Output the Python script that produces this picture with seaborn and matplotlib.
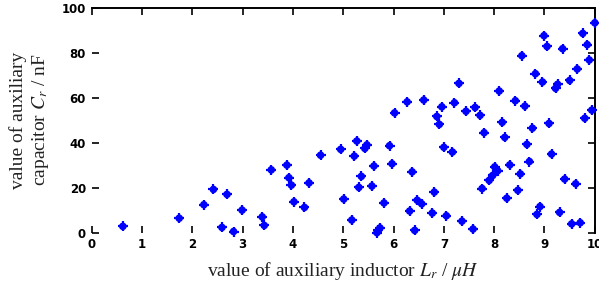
import numpy as np
import pandas as pd
import seaborn as sns
from matplotlib import pyplot as plt

# auxiliary inductor L_r (uH) and capacitor C_r (nF)
L_r = [0.62, 1.74, 2.23, 2.42, 2.69, 2.59, 2.82, 2.99, 3.39, 3.43,
       3.57, 3.88, 3.92, 3.97, 4.02, 4.23, 4.32, 4.55, 4.95, 5.01,
       5.17, 5.22, 5.27, 5.31, 5.36, 5.43, 5.47, 5.57, 5.61, 5.67,
       5.70, 5.73, 5.81, 5.92, 5.97, 6.37, 6.32, 6.42, 6.47, 6.56,
       6.77, 6.81, 7.00, 7.05, 7.17, 7.36, 7.58, 7.76, 7.80, 7.90,
       7.97, 8.01, 8.07, 8.21, 8.25, 8.31, 8.47, 8.52, 8.65, 8.70,
       8.76, 8.85, 8.91, 9.14, 9.30, 9.40, 9.62, 9.54, 9.71,
       6.02, 6.27, 6.60, 6.86, 6.91, 6.96, 7.21, 7.30, 7.44, 7.62,
       7.72, 8.10, 8.16, 8.42, 8.61, 8.55, 8.82, 8.96, 8.99, 9.05,
       9.09, 9.22, 9.26, 9.36, 9.50, 9.65, 9.76, 9.85, 9.89, 10.0,
       9.94, 9.80]
C_r = [2.8, 6.4, 12.4, 19.2, 17.0, 2.3, 0.5, 10.0, 7.0, 3.2,
       27.9, 30.0, 24.4, 21.1, 13.7, 11.2, 22.1, 34.4, 37.0, 14.9,
       5.6, 34.0, 40.7, 20.1, 25.0, 37.4, 39.0, 20.7, 29.6, 0.0,
       1.1, 2.1, 13.2, 38.6, 30.6, 27.0, 9.6, 1.0, 14.4, 12.8,
       8.7, 18.0, 37.9, 7.5, 35.8, 5.1, 1.6, 19.6, 44.4, 23.2,
       25.4, 29.2, 27.5, 42.3, 15.3, 30.1, 18.8, 26.1, 39.2, 31.6,
       46.4, 8.1, 11.6, 34.9, 9.0, 23.8, 21.7, 3.9, 4.4,
       53.2, 58.1, 58.9, 51.6, 48.1, 55.9, 57.7, 66.3, 53.9, 55.6,
       52.1, 62.9, 49.0, 58.6, 56.2, 78.6, 70.6, 66.9, 87.5, 82.7,
       48.5, 64.1, 65.9, 81.7, 67.6, 72.7, 88.5, 83.5, 76.7, 93.2,
       54.4, 50.8]

x_ticks = list(range(0, 11))
y_ticks = [0, 20, 40, 60, 80, 100]

df = pd.DataFrame({'L': L_r, 'C': C_r})

sns.set_style('ticks')
plt.rcParams['font.family'] = ['Liberation Serif', 'DejaVu Serif']
plt.rcParams['mathtext.fontset'] = 'stix'

fig = plt.figure(figsize=(5.99, 2.89), dpi=100)
ax = fig.add_axes([0.153, 0.195, 0.840, 0.779])

# round blob with short cross arms
sns.scatterplot(data=df, x='L', y='C', ax=ax, marker='o', s=30,
                color='#0000ff', edgecolor='none', clip_on=False, zorder=3)
sns.scatterplot(data=df, x='L', y='C', ax=ax, marker='+', s=48,
                color='#0000ff', linewidth=1.6, clip_on=False, zorder=3)

ax.set_xlim(0, 10)
ax.set_ylim(0, 100)
ax.set_xticks(x_ticks)
ax.set_yticks(y_ticks)
ax.set_xticklabels([str(t) for t in x_ticks], fontfamily='DejaVu Sans',
                   fontweight='heavy', fontsize=8.5)
ax.set_yticklabels([str(t) for t in y_ticks], fontfamily='DejaVu Sans',
                   fontweight='heavy', fontsize=8.5)
ax.tick_params(direction='in', length=5, width=1.2, top=True, right=True,
               color='black', labelcolor='black', pad=4)

for side in ['left', 'bottom']:
    ax.spines[side].set_visible(False)
for side in ['top', 'right']:
    ax.spines[side].set_linewidth(1.4)
    ax.spines[side].set_color('black')

ax.set_xlabel(r'value of auxiliary inductor $L_r$ / $\mu H$', fontsize=14,
              color='#222222', labelpad=6)
ax.set_ylabel('value of auxiliary\ncapacitor $C_r$ / nF', fontsize=14,
              color='#222222', labelpad=8, linespacing=1.15)

fig.savefig('out.png', dpi=100)
